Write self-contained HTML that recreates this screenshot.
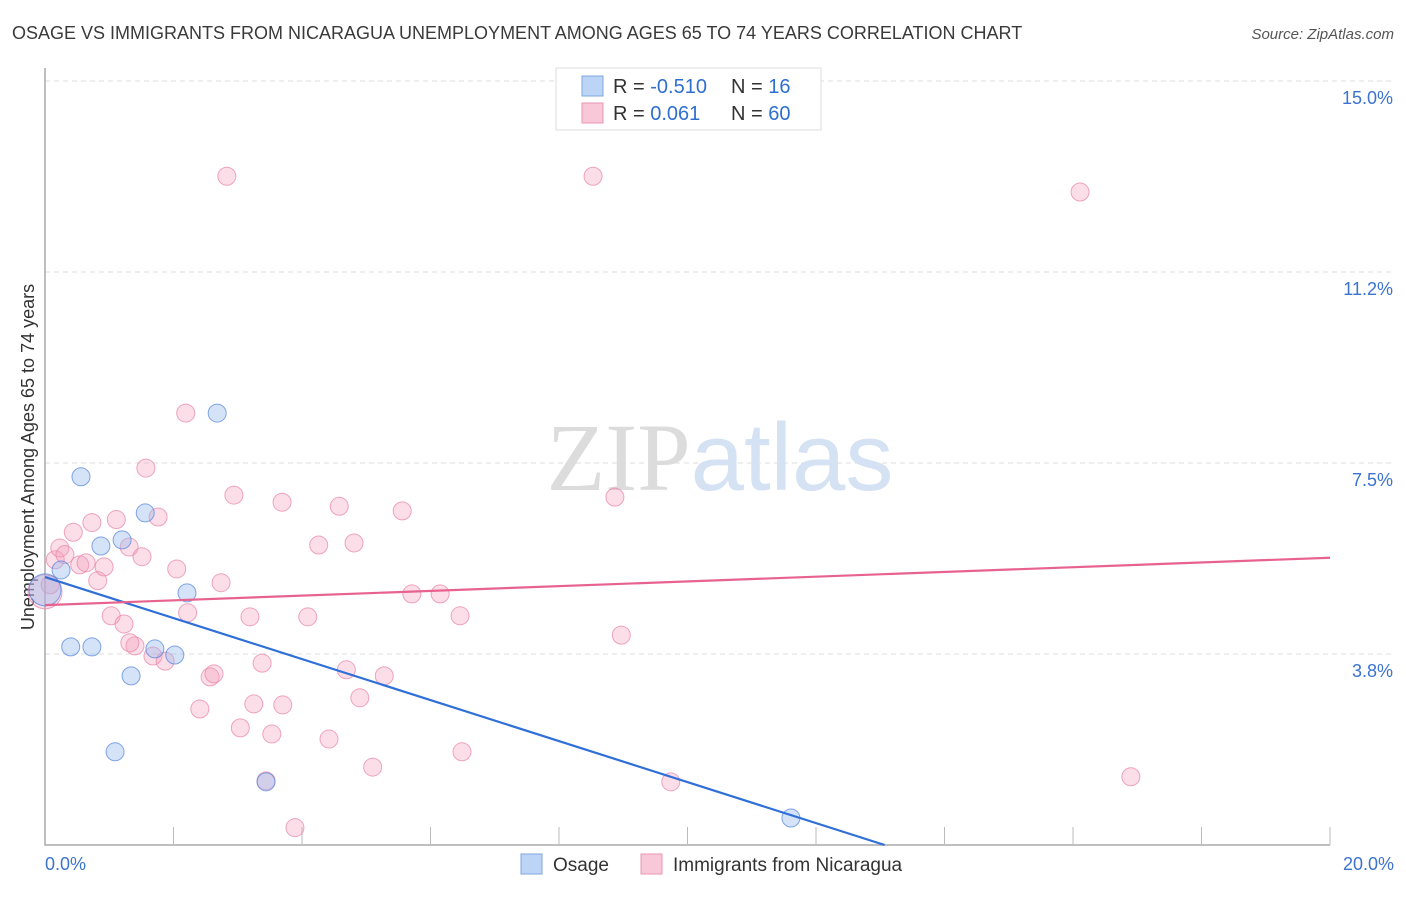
<!DOCTYPE html>
<html><head><meta charset="utf-8"><style>
body{margin:0;background:#fff;font-family:"Liberation Sans",sans-serif}
svg text{font-family:"Liberation Sans",sans-serif}
</style></head><body>
<svg id="chart" width="1406" height="892" viewBox="0 0 1406 892" xmlns="http://www.w3.org/2000/svg">
<text x="12" y="39" font-size="18" fill="#3a3a3a">OSAGE VS IMMIGRANTS FROM NICARAGUA UNEMPLOYMENT AMONG AGES 65 TO 74 YEARS CORRELATION CHART</text>
<text x="1394" y="39" font-size="15" fill="#555" text-anchor="end" font-style="italic">Source: ZipAtlas.com</text>
<g id="grid"></g>
<text x="720" y="490" font-size="96" text-anchor="middle"><tspan fill="#dcdcdc" font-family="Liberation Serif">ZIP</tspan><tspan fill="#d4e2f4">atlas</tspan></text>
<text transform="translate(34,457) rotate(-90)" font-size="18" fill="#333" text-anchor="middle">Unemployment Among Ages 65 to 74 years</text>
<g id="points"></g>
<g id="lines"></g>
<g>
<rect x="556" y="68" width="265" height="62" fill="#fff" stroke="#ddd"/>
<rect x="582" y="76" width="21" height="20" fill="#bcd4f6" stroke="#7fa7e0"/>
<rect x="582" y="103" width="21" height="20" fill="#f9c8d8" stroke="#e996b4"/>
<text x="613" y="93" font-size="20" fill="#333">R = <tspan fill="#2f6fd0">-0.510</tspan></text>
<text x="731" y="93" font-size="20" fill="#333">N = <tspan fill="#2f6fd0"> 16</tspan></text>
<text x="613" y="120" font-size="20" fill="#333">R = <tspan fill="#2f6fd0">  0.061</tspan></text>
<text x="731" y="120" font-size="20" fill="#333">N = <tspan fill="#2f6fd0">60</tspan></text>
</g>
<g>
<rect x="521" y="854" width="21" height="20" fill="#bcd4f6" stroke="#7fa7e0"/>
<text x="553" y="871" font-size="19" fill="#333">Osage</text>
<rect x="641" y="854" width="21" height="20" fill="#f9c8d8" stroke="#e996b4"/>
<text x="673" y="871" font-size="19" fill="#333">Immigrants from Nicaragua</text>
</g>
</svg>
<script>
const yTicks=[3.8,7.5,11.2,15.0];
const yTickValues=[3.75,7.5,11.25,15];
const xTickLabels=["0.0%","20.0%"];
const osageX=[0,0.25,0.56,0.87,1.2,1.56,2.21,2.68,0.40,0.73,1.71,2.02,1.34,1.09,3.44,11.61];
const osageY=[5.01,5.40,7.23,5.87,5.99,6.52,4.95,8.48,3.89,3.89,3.85,3.73,3.32,1.83,1.24,0.53];
const nicX=[0,0.16,0.23,0.31,0.44,0.54,0.64,0.73,0.82,0.92,1.03,1.11,1.23,1.31,1.40,1.51,1.57,1.68,1.76,1.87,2.05,2.19,2.22,2.41,2.57,2.63,2.74,2.83,2.94,3.04,3.19,3.25,3.38,3.44,3.53,3.70,3.69,3.89,4.09,4.26,4.42,4.58,4.69,4.81,4.90,5.10,5.28,5.56,5.71,6.15,6.46,6.49,8.53,8.87,8.97,9.74,16.11,16.90,0.08,1.32,1.98];
const nicY=[4.97,5.60,5.83,5.70,6.14,5.50,5.54,6.33,5.19,5.46,4.50,6.39,4.34,5.85,3.91,5.66,7.40,3.71,6.44,3.61,5.42,8.48,4.56,2.67,3.30,3.36,5.15,13.13,6.87,2.30,4.48,2.77,3.57,1.26,2.18,2.75,6.73,0.34,4.48,5.89,2.08,6.65,3.44,5.93,2.89,1.53,3.32,6.56,4.93,4.93,4.50,1.83,13.13,6.83,4.12,1.24,12.82,1.34,5.11,3.97,1.47];
const nicX2=nicX.slice(0,60);
const trendOsage=[5.26,-0.4025];
const trendNic=[4.71,0.0465];
const xMax=20;
const X=v=>45+v/xMax*1285, Y=v=>845-v/15*764;
const ns="http://www.w3.org/2000/svg";
function mk(t,a,p){const e=document.createElementNS(ns,t);for(const k in a)e.setAttribute(k,a[k]);p.appendChild(e);return e;}
const grid=document.getElementById('grid');
yTickValues.forEach((v,i)=>{
 const l=mk('line',{x1:45,x2:1394,y1:Y(v),y2:Y(v),stroke:'#ddd','stroke-dasharray':'5,4'},grid);
 
 
 const t=mk('text',{x:1393,y:Y(v)+23,'font-size':18,fill:'#3b73d0','text-anchor':'end'},grid);
 t.textContent=yTicks[i].toFixed(1)+'%';
 
 
});
const ax=mk('path',{d:'M45 68V845H1330',stroke:'#aaa',fill:'none','stroke-width':1.5},grid);


for(let i=1;i<=10;i++){const tk=mk('line',{x1:X(i*2),x2:X(i*2),y1:827,y2:845,stroke:'#bbb'},grid);
 
 }
xTickLabels.forEach((s,i)=>{const t=mk('text',{x:i?1394:45,y:870,'font-size':18,fill:'#3b73d0','text-anchor':i?'end':'start'},grid);
 t.textContent=s;
 
 });
const pts=document.getElementById('points');
for(let i=0;i<60;i++){const c=mk('circle',{cx:X(nicX[i]),cy:Y(nicY[i]),r:i==0?17:9,fill:'rgba(244,160,188,0.35)',stroke:'rgba(232,130,165,0.7)','stroke-width':1},pts);
 
 }
osageX.forEach((x,i)=>{const c=mk('circle',{cx:X(x),cy:Y(osageY[i]),r:i==0?16:9,fill:'rgba(150,185,240,0.4)',stroke:'rgba(80,130,220,0.7)','stroke-width':1},pts);
 
 });
const lines=document.getElementById('lines');
const xEndO=Math.min(xMax,-trendOsage[0]/trendOsage[1]);
const lo=mk('line',{x1:X(0),y1:Y(trendOsage[0]),x2:X(xEndO),y2:Y(trendOsage[0]+trendOsage[1]*xEndO),stroke:'#2f6fd8','stroke-width':2.2},lines);


const ln=mk('line',{x1:X(0),y1:Y(trendNic[0]),x2:X(xMax),y2:Y(trendNic[0]+trendNic[1]*xMax),stroke:'#e8628f','stroke-width':2.2},lines);


</script>
</body></html>
